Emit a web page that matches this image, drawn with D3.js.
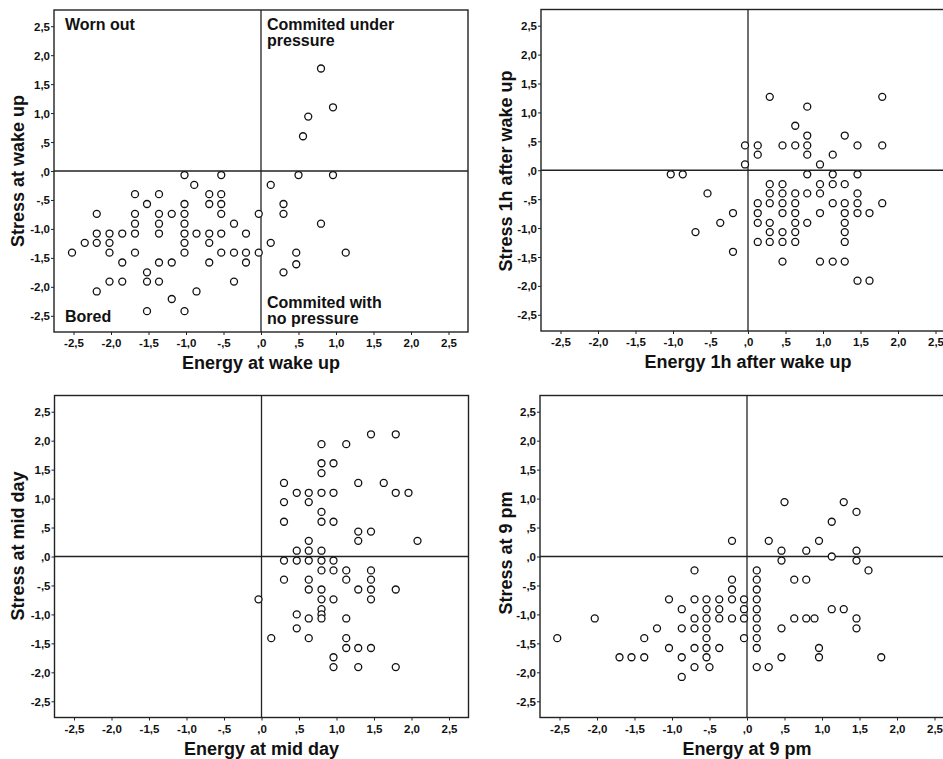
<!DOCTYPE html>
<html><head><meta charset="utf-8">
<script src="https://cdn.jsdelivr.net/npm/d3@7"></script>
<style>
html,body{margin:0;padding:0;background:#fff;}
svg text{font-family:"Liberation Sans",Arial,sans-serif;font-weight:bold;fill:#111;}
</style></head>
<body>
<svg id="chart" width="943" height="759"></svg>
<script>
// Tick values shared by both axes
const tickValues = [-2.5,-2.0,-1.5,-1.0,-0.5,0,0.5,1.0,1.5,2.0,2.5];

// Panel 1: wake up
const wakeEnergy = [0.80,0.96,0.63,0.56,
 -1.02,-0.53,0.50,0.96,
 -0.89,0.13,
 -1.68,-1.36,-0.69,-0.53,
 -1.52,-1.02,-0.69,-0.53,0.30,
 -2.19,-1.68,-1.36,-1.19,-1.02,-0.53,-0.03,0.30,
 -1.68,-1.36,-1.02,-0.36,0.80,
 -2.19,-2.02,-1.85,-1.68,-1.36,-1.02,-0.86,-0.69,-0.53,-0.20,
 -2.35,-2.19,-2.02,-1.02,-0.69,0.13,
 -2.52,-2.02,-1.68,-1.02,-0.53,-0.36,-0.20,-0.03,0.47,1.13,
 -1.85,-1.36,-1.19,-0.69,-0.20,
 0.47,
 -1.52,0.30,
 -2.02,-1.85,-1.52,-1.36,-0.36,
 -2.19,-0.86,
 -1.19,
 -1.52,-1.02];
const wakeStress = [1.77,1.10,0.94,0.60,
 -0.07,-0.07,-0.07,-0.07,
 -0.24,-0.24,
 -0.40,-0.40,-0.40,-0.40,
 -0.57,-0.57,-0.57,-0.57,-0.57,
 -0.74,-0.74,-0.74,-0.74,-0.74,-0.74,-0.74,-0.74,
 -0.91,-0.91,-0.91,-0.91,-0.91,
 -1.08,-1.08,-1.08,-1.08,-1.08,-1.08,-1.08,-1.08,-1.08,-1.08,
 -1.24,-1.24,-1.24,-1.24,-1.24,-1.24,
 -1.41,-1.41,-1.41,-1.41,-1.41,-1.41,-1.41,-1.41,-1.41,-1.41,
 -1.58,-1.58,-1.58,-1.58,-1.58,
 -1.61,
 -1.75,-1.75,
 -1.91,-1.91,-1.91,-1.91,-1.91,
 -2.08,-2.08,
 -2.21,
 -2.42,-2.42];

// Panel 2: 1h after wake up
const hourEnergy = [0.29,1.79,0.79,0.63,0.79,1.29,
 -0.04,0.13,0.46,0.63,0.79,1.46,1.79,
 0.13,0.79,1.13,
 -0.04,0.96,
 -1.03,-0.87,0.79,1.13,1.46,
 0.29,0.46,0.96,1.13,1.29,
 -0.54,0.29,0.46,0.63,0.79,0.96,1.46,
 0.13,0.29,0.46,0.63,1.13,1.29,1.46,1.79,
 -0.20,0.13,0.46,0.63,0.96,1.29,1.46,1.62,
 -0.37,0.13,0.29,0.63,0.79,1.29,
 -0.70,0.29,0.46,0.63,1.29,
 0.13,0.29,0.46,0.63,1.29,
 -0.20,
 0.46,0.96,1.13,1.29,
 1.46,1.62];
const hourStress = [1.27,1.27,1.10,0.77,0.60,0.60,
 0.43,0.43,0.43,0.43,0.43,0.43,0.43,
 0.27,0.27,0.27,
 0.10,0.10,
 -0.07,-0.07,-0.07,-0.07,-0.07,
 -0.24,-0.24,-0.24,-0.24,-0.24,
 -0.40,-0.40,-0.40,-0.40,-0.40,-0.40,-0.40,
 -0.57,-0.57,-0.57,-0.57,-0.57,-0.57,-0.57,-0.57,
 -0.74,-0.74,-0.74,-0.74,-0.74,-0.74,-0.74,-0.74,
 -0.91,-0.91,-0.91,-0.91,-0.91,-0.91,
 -1.07,-1.07,-1.07,-1.07,-1.07,
 -1.24,-1.24,-1.24,-1.24,-1.24,
 -1.41,
 -1.58,-1.58,-1.58,-1.58,
 -1.91,-1.91];

// Panel 3: mid day
const midEnergy = [1.46,1.79,
 0.80,1.13,
 0.80,0.96,
 0.80,
 0.30,1.29,1.63,
 0.47,0.63,0.80,0.96,1.79,1.96,
 0.30,0.63,
 0.80,
 0.30,0.80,0.96,
 1.29,1.46,
 0.63,1.29,2.08,
 0.47,0.63,0.80,
 0.30,0.47,0.63,0.80,0.96,
 0.80,0.96,1.13,1.46,
 0.30,0.63,1.13,1.46,
 0.63,0.80,1.29,1.46,1.79,
 -0.04,0.80,0.96,1.46,
 0.80,
 0.47,0.80,
 0.63,0.80,1.13,
 0.47,
 0.13,0.63,1.13,
 1.13,1.29,1.46,
 0.96,
 0.96,1.29,1.79];
const midStress = [2.11,2.11,
 1.94,1.94,
 1.61,1.61,
 1.44,
 1.27,1.27,1.27,
 1.10,1.10,1.10,1.10,1.10,1.10,
 0.94,0.94,
 0.77,
 0.60,0.60,0.60,
 0.43,0.43,
 0.27,0.27,0.27,
 0.10,0.10,0.10,
 -0.07,-0.07,-0.07,-0.07,-0.07,
 -0.24,-0.24,-0.24,-0.24,
 -0.40,-0.40,-0.40,-0.40,
 -0.57,-0.57,-0.57,-0.57,-0.57,
 -0.74,-0.74,-0.74,-0.74,
 -0.91,
 -1.00,-1.00,
 -1.07,-1.07,-1.07,
 -1.24,
 -1.41,-1.41,-1.41,
 -1.58,-1.58,-1.58,
 -1.74,
 -1.91,-1.91,-1.91];

// Panel 4: 9 pm
const pmEnergy = [0.50,1.29,
 1.46,
 1.13,
 -0.20,0.29,0.96,
 0.46,0.79,1.46,
 1.13,
 0.46,1.46,
 -0.70,0.13,1.62,
 -0.20,0.13,0.63,0.79,
 -0.20,0.13,
 -1.04,-0.70,-0.54,-0.37,-0.20,-0.04,0.13,
 -0.87,-0.54,-0.37,-0.04,0.13,1.13,1.29,
 -2.03,-0.70,-0.54,-0.37,-0.20,-0.04,0.13,0.63,0.79,0.90,1.46,
 -1.20,-0.87,-0.70,-0.54,0.13,0.46,1.46,
 -2.53,-1.37,-0.54,-0.04,0.13,
 -1.04,-0.70,-0.54,-0.37,0.13,0.96,
 -1.70,-1.54,-1.37,-0.87,-0.54,0.46,0.96,1.79,
 -0.70,-0.50,0.13,0.29,
 -0.87];
const pmStress = [0.94,0.94,
 0.77,
 0.60,
 0.27,0.27,0.27,
 0.10,0.10,0.10,
 0.00,
 -0.07,-0.07,
 -0.24,-0.24,-0.24,
 -0.40,-0.40,-0.40,-0.40,
 -0.57,-0.57,
 -0.74,-0.74,-0.74,-0.74,-0.74,-0.74,-0.74,
 -0.91,-0.91,-0.91,-0.91,-0.91,-0.91,-0.91,
 -1.07,-1.07,-1.07,-1.07,-1.07,-1.07,-1.07,-1.07,-1.07,-1.07,-1.07,
 -1.24,-1.24,-1.24,-1.24,-1.24,-1.24,-1.24,
 -1.41,-1.41,-1.41,-1.41,-1.41,
 -1.58,-1.58,-1.58,-1.58,-1.58,-1.58,
 -1.74,-1.74,-1.74,-1.74,-1.74,-1.74,-1.74,-1.74,
 -1.91,-1.91,-1.91,-1.91,
 -2.08];

const panels = [
  {x:wakeEnergy, y:wakeStress, xTitle:"Energy at wake up", yTitle:"Stress at wake up",
   box:[54,468,10,332], yTitleX:18, yTitleY:171, quadrants:true},
  {x:hourEnergy, y:hourStress, xTitle:"Energy 1h after wake up", yTitle:"Stress 1h after wake up",
   box:[541,955,9.5,331], yTitleX:505.5, yTitleY:171},
  {x:midEnergy, y:midStress, xTitle:"Energy at mid day", yTitle:"Stress at mid day",
   box:[54.5,468.5,395.5,717.5], yTitleX:18, yTitleY:546},
  {x:pmEnergy, y:pmStress, xTitle:"Energy at 9 pm", yTitle:"Stress at 9 pm",
   box:[540,954,395.5,717.5], yTitleX:505.5, yTitleY:553}
];

const fmt = v => {
  const s = Math.abs(v).toFixed(1).replace(".", ",").replace(/^0,/, ",");
  return (v < 0 ? "-" : "") + s;
};

const svg = d3.select("#chart");
const dom = [-2.76, 2.76];
const ink = "#222";

panels.forEach(p => {
  const [x0,x1,y0,y1] = p.box;
  const xs = d3.scaleLinear().domain(dom).range([x0,x1]);
  const ys = d3.scaleLinear().domain([-2.78,2.78]).range([y1,y0]);
  const g = svg.append("g");

  const xa = g.append("g").attr("transform", `translate(0,${y1})`)
    .call(d3.axisBottom(xs).tickValues(tickValues).tickSize(3).tickFormat(fmt));
  xa.select(".domain").remove();
  xa.selectAll("line").attr("stroke", ink).attr("stroke-width", 1);
  xa.selectAll("text").attr("font-size", 11.5).attr("dy", 0).attr("y", 15).attr("fill", "#111");

  const ya = g.append("g").attr("transform", `translate(${x0},0)`)
    .call(d3.axisLeft(ys).tickValues(tickValues).tickSize(3).tickFormat(fmt));
  ya.select(".domain").remove();
  ya.selectAll("line").attr("stroke", ink).attr("stroke-width", 1);
  ya.selectAll("text").attr("font-size", 11.5).attr("x", -4).attr("dy", "0.35em").attr("fill", "#111");

  g.append("rect").attr("x", x0).attr("y", y0).attr("width", x1-x0).attr("height", y1-y0)
    .attr("fill", "none").attr("stroke", ink).attr("stroke-width", 1.4);

  g.append("line").attr("x1", x0).attr("x2", x1).attr("y1", ys(0)).attr("y2", ys(0))
    .attr("stroke", ink).attr("stroke-width", 1.3);
  g.append("line").attr("x1", xs(0)).attr("x2", xs(0)).attr("y1", y0).attr("y2", y1)
    .attr("stroke", ink).attr("stroke-width", 1.3);

  const pts = p.x.map((v,i) => [v, p.y[i]]);
  g.selectAll("circle").data(pts).enter().append("circle")
    .attr("cx", d => xs(d[0])).attr("cy", d => ys(d[1])).attr("r", 3.5)
    .attr("fill", "#fff").attr("stroke", "#111").attr("stroke-width", 1.3);

  g.append("text").attr("x", (x0+x1)/2).attr("y", y1+37).attr("text-anchor","middle")
    .attr("font-size", 18).text(p.xTitle);
  g.append("text").attr("transform", `translate(${p.yTitleX + 6},${p.yTitleY}) rotate(-90)`)
    .attr("text-anchor","middle").attr("font-size", 18).text(p.yTitle);

  if (p.quadrants) {
    const q = [["Worn out", x0+11, y0+20], ["Commited under", xs(0)+6, y0+20], ["pressure", xs(0)+6, y0+36],
               ["Bored", x0+11, y1-10], ["Commited with", xs(0)+6, y1-24.5], ["no pressure", xs(0)+6, y1-8.5]];
    q.forEach(t => g.append("text").attr("x", t[1]).attr("y", t[2]).attr("font-size", 16).text(t[0]));
  }
});
</script>
</body></html>
